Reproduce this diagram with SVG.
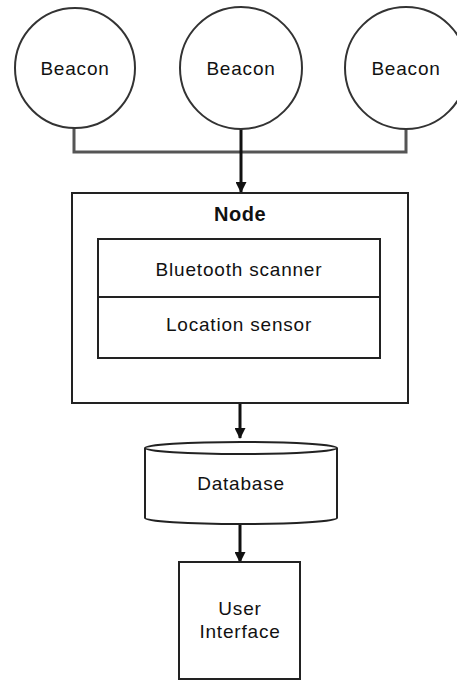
<svg xmlns="http://www.w3.org/2000/svg" width="457" height="683" viewBox="0 0 457 683">
<style>
  text { font-family: "Liberation Sans", Arial, sans-serif; font-size: 19px; letter-spacing: 0.8px; fill: #111; text-anchor: middle; }
  .bold { font-weight: bold; font-size: 20px; letter-spacing: 0.5px; }
  .shape { fill: #fff; stroke: #222; stroke-width: 2; }
  .circ { fill: #fff; stroke: #333; stroke-width: 2; }
  .line { fill: none; stroke: #111; stroke-width: 3; }
  .gline { fill: none; stroke: #555; stroke-width: 3; }
</style>
<defs>
  <marker id="arrow" markerWidth="11" markerHeight="11" refX="10" refY="5.5" orient="auto" markerUnits="userSpaceOnUse" viewBox="0 0 11 11">
    <path d="M0,0 L11,5.5 L0,11 Z" fill="#111"/>
  </marker>
</defs>
<rect width="457" height="683" fill="#fff"/>
<g id="connectors">
  <path class="gline" d="M74,128 V152 H406 V128"/>
  <path class="line" d="M241,128 V192" marker-end="url(#arrow)"/>
  <path class="line" d="M240,403 V438" marker-end="url(#arrow)"/>
  <path class="line" d="M240,525 V562" marker-end="url(#arrow)"/>
</g>
<g id="beacon1">
  <circle class="circ" cx="75" cy="68" r="60"/>
  <text x="75" y="75">Beacon</text>
</g>
<g id="beacon2">
  <circle class="circ" cx="241" cy="68" r="61"/>
  <text x="241" y="75">Beacon</text>
</g>
<g id="beacon3">
  <circle class="circ" cx="406" cy="68" r="61"/>
  <text x="406" y="75">Beacon</text>
</g>
<g id="node">
  <rect class="shape" x="72" y="193" width="336" height="210"/>
  <text class="bold" x="240" y="221">Node</text>
</g>
<g id="bluetooth-scanner">
  <rect class="shape" x="98" y="239" width="282" height="58"/>
  <text x="239" y="276">Bluetooth scanner</text>
</g>
<g id="location-sensor">
  <rect class="shape" x="98" y="297" width="282" height="61"/>
  <text x="239" y="331">Location sensor</text>
</g>
<g id="database">
  <path class="shape" d="M145,448 V518 A96,6 0 0 0 337,518 V448 A96,6 0 0 0 145,448 Z"/>
  <path class="shape" fill="none" d="M145,448 A96,6 0 0 0 337,448"/>
  <text x="241" y="490">Database</text>
</g>
<g id="user-interface">
  <rect class="shape" x="179" y="562" width="121" height="117"/>
  <text x="240" y="615">User</text>
  <text x="240" y="638">Interface</text>
</g>
</svg>
